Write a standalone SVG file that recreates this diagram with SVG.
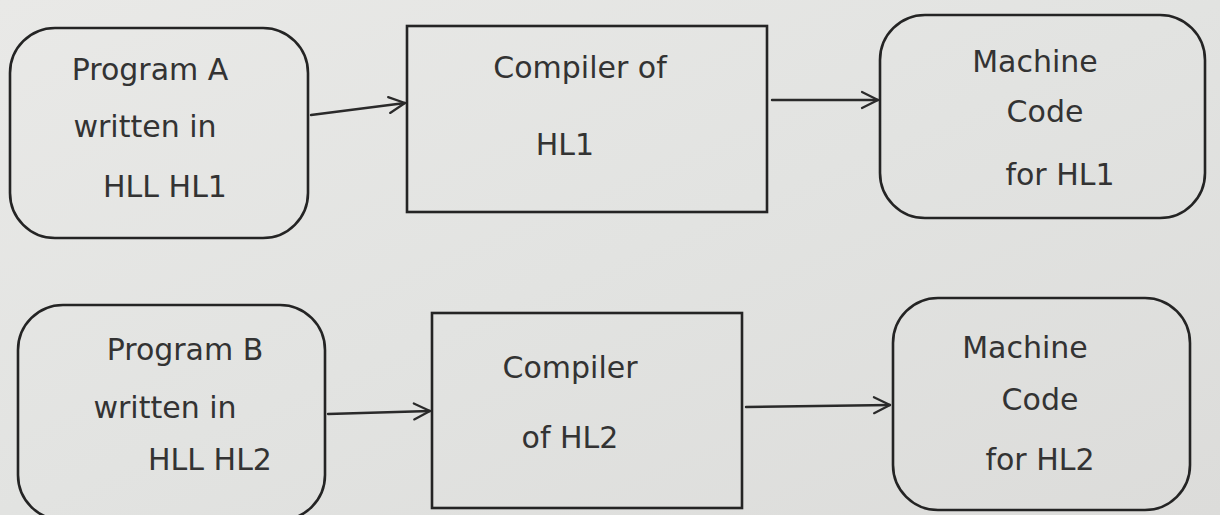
<svg xmlns="http://www.w3.org/2000/svg" width="1220" height="515" viewBox="0 0 1220 515">
<defs>
<linearGradient id="paper" x1="0" y1="0" x2="1" y2="1">
<stop offset="0" stop-color="#e9e9e7"/>
<stop offset="0.5" stop-color="#e2e3e1"/>
<stop offset="1" stop-color="#dcdcda"/>
</linearGradient>
<marker id="arr" viewBox="0 0 20 20" refX="18" refY="10" markerWidth="20" markerHeight="20" markerUnits="userSpaceOnUse" orient="auto">
<path d="M2,2 L18,10 L2,18" fill="none" stroke="#2a2a2a" stroke-width="2.2" stroke-linecap="round" stroke-linejoin="round"/>
</marker>
<style>
.box{fill:none;stroke:#242424;stroke-width:2.6}
.t{font-family:"DejaVu Sans",sans-serif;font-size:30px;fill:#333;text-anchor:middle}
.c{fill:none;stroke:#2a2a2a;stroke-width:2.4;stroke-linecap:round}
</style>
</defs>
<rect width="1220" height="515" fill="url(#paper)"/>

<g id="progA">
<rect class="box" x="10" y="28" width="298" height="210" rx="45"/>
<text class="t" x="150" y="80">Program A</text>
<text class="t" x="145" y="137">written in</text>
<text class="t" x="165" y="197">HLL  HL1</text>
</g>
<g id="compA">
<rect class="box" x="407" y="26" width="360" height="186"/>
<text class="t" x="580" y="78">Compiler of</text>
<text class="t" x="565" y="155">HL1</text>
</g>
<g id="machA">
<rect class="box" x="880" y="15" width="325" height="203" rx="45"/>
<text class="t" x="1035" y="72">Machine</text>
<text class="t" x="1045" y="122">Code</text>
<text class="t" x="1060" y="185">for HL1</text>
</g>

<g id="progB">
<rect class="box" x="18" y="305" width="307" height="215" rx="45"/>
<text class="t" x="185" y="360">Program B</text>
<text class="t" x="165" y="418">written in</text>
<text class="t" x="210" y="470">HLL HL2</text>
</g>
<g id="compB">
<rect class="box" x="432" y="313" width="310" height="195"/>
<text class="t" x="570" y="378">Compiler</text>
<text class="t" x="570" y="448">of HL2</text>
</g>
<g id="machB">
<rect class="box" x="893" y="298" width="297" height="212" rx="45"/>
<text class="t" x="1025" y="358">Machine</text>
<text class="t" x="1040" y="410">Code</text>
<text class="t" x="1040" y="470">for HL2</text>
</g>

<g id="connectors">
<path class="c" d="M311,115 L405,103" marker-end="url(#arr)"/>
<path class="c" d="M772,100 L878,100" marker-end="url(#arr)"/>
<path class="c" d="M328,414 L430,411" marker-end="url(#arr)"/>
<path class="c" d="M746,407 L890,405" marker-end="url(#arr)"/>
</g>
</svg>
